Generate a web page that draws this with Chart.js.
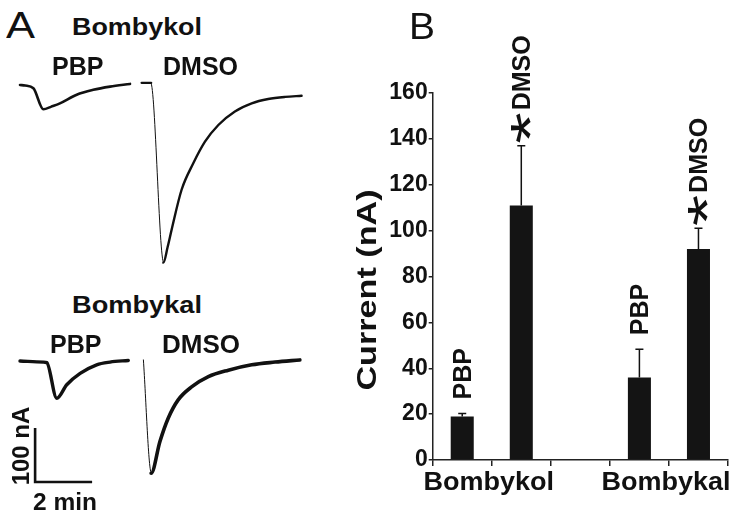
<!DOCTYPE html>
<html>
<head>
<meta charset="utf-8">
<script src="https://cdn.jsdelivr.net/npm/chart.js@4.4.1/dist/chart.umd.min.js"></script>
<style>
  html, body { margin: 0; padding: 0; background: #fff; }
  body { width: 750px; height: 517px; position: relative; overflow: hidden;
         font-family: "Liberation Sans", Arial, sans-serif; color: #111; }
  .lbl { position: absolute; white-space: nowrap; line-height: 1; font-weight: bold; transform-origin: 0 0; }
  canvas { position: absolute; }
</style>
</head>
<body>
<canvas id="traceTop"></canvas>
<canvas id="traceBottom"></canvas>
<canvas id="bars"></canvas>
<script>
// ---- Panel A: example recordings (time in min, current in nA vs. baseline) ----
const kolPbpTime     = [0, 0.18, 0.47, 0.82, 1.10, 1.40, 1.99, 2.57, 3.16, 3.86];
const kolPbpCurrent  = [0, -1, -6, -45, -40, -34, -18, -9, -3, 2];
const kolDmsoTime    = [4.27, 4.60, 5.03, 5.18, 5.32, 5.67, 6.08, 6.49, 6.96, 7.54, 8.13, 8.71, 9.30, 9.88];
const kolDmsoCurrent = [4, 4, -329, -300, -268, -194, -145, -105, -74, -49, -34, -26, -22, -20];

const kalPbpTime     = [0, 0.82, 0.94, 1.29, 1.64, 2.11, 2.69, 3.16, 3.80];
const kalPbpCurrent  = [0, -2, -3, -69, -44, -23, -7, -2, 1];
const kalDmsoTime    = [4.33, 4.60, 4.91, 5.20, 5.55, 6.02, 6.61, 7.31, 8.13, 8.95, 9.82];
const kalDmsoCurrent = [2, -208, -149, -106, -72, -48, -29, -17, -7, -2, 2];

// scale bar: 100 nA / 2 min
const scaleBarNa = 100;
const scaleBarMin = 2;

// ---- Panel B: mean current ----
const barCategories = ['PBP', 'DMSO', '', 'PBP', 'DMSO'];
const barGroups     = ['Bombykol', 'Bombykol', null, 'Bombykal', 'Bombykal'];
const barMeans      = [19, 111, null, 36, 92];
const barErrors     = [1.3, 26, null, 12.3, 9];
const barStarred    = [false, true, false, false, true];
const yMin = 0, yMax = 160, yStep = 20;

const FONT = '"Liberation Sans", Arial, sans-serif';
const INK = '#111';

// ---------- html text ----------
function addLabel(text, x, baseline, size, opts = {}) {
  const d = document.createElement('div');
  d.className = 'lbl';
  d.textContent = text;
  d.style.left = x + 'px';
  d.style.top = (baseline - 0.8465 * size) + 'px';
  d.style.fontSize = size + 'px';
  if (opts.weight) d.style.fontWeight = opts.weight;
  document.body.appendChild(d);
  if (opts.width) {
    const w = d.getBoundingClientRect().width;
    d.style.transform = `scaleX(${opts.width / w})`;
  }
  return d;
}

addLabel('A', 6, 38, 36, { weight: 'normal', width: 29 });
addLabel('Bombykol', 72, 35, 24, { width: 130 });
addLabel('PBP', 52, 75, 25);
addLabel('DMSO', 163, 75, 25);
addLabel('Bombykal', 72, 313, 24, { width: 130 });
addLabel('PBP', 50, 353, 25);
addLabel('DMSO', 162, 353, 25, { width: 78 });
addLabel('2 min', 33, 510, 24, { width: 64 });
addLabel('B', 409, 39, 36, { weight: 'normal', width: 26 });
const nA = addLabel('100 nA', 21, 0, 24);
nA.style.top = '446px';
nA.style.transformOrigin = '50% 50%';
nA.style.transform = 'translate(-50%,-50%) rotate(-90deg)';

// ---------- panel A charts ----------
const PX_PER_MIN = 28.5, PX_PER_NA = 0.54;

function pts(t, v) { return t.map((x, i) => ({ x, y: v[i] })); }

function traceChart(id, left, top, w, h, zeroX, zeroY, datasets) {
  const cv = document.getElementById(id);
  cv.width = w; cv.height = h;
  cv.style.left = left + 'px'; cv.style.top = top + 'px';
  cv.style.width = w + 'px'; cv.style.height = h + 'px';
  return new Chart(cv, {
    type: 'line',
    data: { datasets },
    options: {
      responsive: false, animation: false, devicePixelRatio: 1,
      layout: { padding: 0 },
      plugins: { legend: { display: false }, tooltip: { enabled: false } },
      scales: {
        x: { type: 'linear', display: false, min: -zeroX / PX_PER_MIN, max: (w - zeroX) / PX_PER_MIN },
        y: { type: 'linear', display: false, min: -(h - zeroY) / PX_PER_NA, max: zeroY / PX_PER_NA }
      }
    }
  });
}

function trace(t, v, width) {
  return {
    data: pts(t, v), borderColor: INK, pointRadius: 0, cubicInterpolationMode: 'monotone', clip: false,
    borderJoinStyle: 'round', borderCapStyle: 'round', borderWidth: width,
    // the fast solution-switch transient is drawn hair-thin like in the recording
    segment: { borderWidth: c => Math.abs(c.p1.y - c.p0.y) > 8 * Math.abs(c.p1.x - c.p0.x) ? 1 : width }
  };
}

traceChart('traceTop', 0, 60, 345, 215, 20, 25, [
  trace(kolPbpTime, kolPbpCurrent, 2.6),
  trace(kolDmsoTime, kolDmsoCurrent, 2.4)
]);

const sbT = 0.53, sbI = -224;
traceChart('traceBottom', 0, 330, 345, 187, 20, 31, [
  trace(kalPbpTime, kalPbpCurrent, 3.4),
  trace(kalDmsoTime, kalDmsoCurrent, 3.6),
  { data: pts([sbT, sbT, sbT + scaleBarMin], [sbI + scaleBarNa, sbI, sbI]),
    borderColor: INK, borderWidth: 2.6, pointRadius: 0, tension: 0, clip: false,
    borderJoinStyle: 'miter', borderCapStyle: 'butt' }
]);

// ---------- panel B ----------
function drawUp(ctx, text, x, y, font, stretch = 1) {
  // text reading bottom-to-top, ink starting at y and centred on x
  ctx.save();
  ctx.font = font;
  const m = ctx.measureText(text);
  ctx.translate(x, y);
  ctx.rotate(-Math.PI / 2);
  ctx.scale(stretch, 1);
  ctx.textAlign = 'left';
  ctx.textBaseline = 'alphabetic';
  ctx.fillText(text, m.actualBoundingBoxLeft, (m.actualBoundingBoxAscent - m.actualBoundingBoxDescent) / 2);
  ctx.restore();
  return (m.actualBoundingBoxLeft + m.actualBoundingBoxRight) * stretch;
}

const barDecor = {
  id: 'barDecor',
  afterDatasetsDraw(chart) {
    const { ctx, scales: { y } } = chart;
    const meta = chart.getDatasetMeta(0);
    ctx.save();
    ctx.fillStyle = INK;
    ctx.strokeStyle = INK;
    ctx.lineWidth = 1.5;
    barMeans.forEach((m, i) => {
      if (m == null) return;
      const bar = meta.data[i];
      const top = y.getPixelForValue(m + barErrors[i]);
      ctx.beginPath();
      ctx.moveTo(bar.x, bar.y); ctx.lineTo(bar.x, top);
      ctx.moveTo(bar.x - 4, top); ctx.lineTo(bar.x + 4, top);
      ctx.stroke();
      if (barStarred[i]) {
        const len = drawUp(ctx, '*', bar.x, top - 2, `normal 56px ${FONT}`, 1.45);
        drawUp(ctx, barCategories[i], bar.x, top - 2 - len - 4, `bold 25px ${FONT}`);
      } else {
        drawUp(ctx, barCategories[i], bar.x, top - 15, `bold 25px ${FONT}`);
      }
    });
    // group names under the axis
    ctx.font = `bold 25px ${FONT}`;
    ctx.textAlign = 'center';
    ctx.textBaseline = 'alphabetic';
    [...new Set(barGroups.filter(g => g))].forEach(g => {
      const xs = barGroups.map((b, i) => b === g ? meta.data[i].x : null).filter(v => v != null);
      const cx = xs.reduce((a, b) => a + b, 0) / xs.length;
      ctx.save();
      ctx.translate(cx - 3, 490);
      ctx.scale(1.08, 1);
      ctx.fillText(g, 0, 0);
      ctx.restore();
    });
    // y-axis title
    ctx.save();
    ctx.font = `bold 28px ${FONT}`;
    ctx.translate(28, 290);
    ctx.rotate(-Math.PI / 2);
    ctx.scale(1.22, 1);
    ctx.textAlign = 'center';
    ctx.textBaseline = 'middle';
    ctx.fillText('Current (nA)', 0, 0);
    ctx.restore();
    ctx.restore();
  }
};

const bcv = document.getElementById('bars');
bcv.width = 410; bcv.height = 517;
bcv.style.left = '340px'; bcv.style.top = '0px';
bcv.style.width = '410px'; bcv.style.height = '517px';

new Chart(bcv, {
  type: 'bar',
  data: {
    labels: barCategories,
    datasets: [{
      data: barMeans,
      backgroundColor: '#141414', borderColor: '#141414', borderWidth: 0,
      barPercentage: 0.39, categoryPercentage: 1.0
    }]
  },
  options: {
    responsive: false, animation: false, devicePixelRatio: 1,
    layout: { padding: { left: 0, right: 22, top: 93, bottom: 37 } },
    plugins: { legend: { display: false }, tooltip: { enabled: false } },
    scales: {
      x: {
        grid: { display: true, drawOnChartArea: false, drawTicks: true, tickLength: 6, color: '#222', lineWidth: 1.5, offset: true },
        border: { display: true, color: '#222', width: 1.5 },
        ticks: { display: false },
        afterFit(s) { s.height = 20; }
      },
      y: {
        min: yMin, max: yMax,
        grid: { display: true, drawOnChartArea: false, drawTicks: true, tickLength: 4, color: '#222', lineWidth: 1.5 },
        border: { display: true, color: '#222', width: 1.5 },
        ticks: { stepSize: yStep, padding: 1, color: INK, font: { family: FONT, size: 23, weight: 'bold' } },
        afterFit(s) { s.width = 92.7; }
      }
    }
  },
  plugins: [barDecor]
});
</script>
</body>
</html>
